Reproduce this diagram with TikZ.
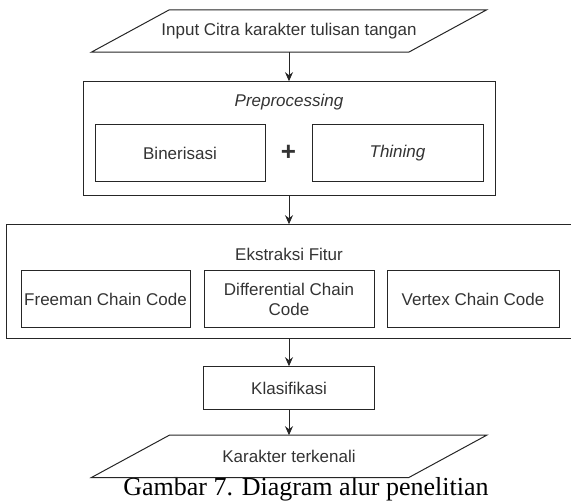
\documentclass[tikz,border=0pt]{standalone}
\usepackage{fontspec}
\setmainfont{Liberation Sans}
\newfontfamily\captionfont{Liberation Serif}
\usetikzlibrary{positioning,arrows.meta,calc}
\tikzset{x=1pt, y=-1pt, node distance=28pt,
	every node/.style={text=black!80, font=\fontsize{17}{20}\selectfont},
	line/.style={draw=black!85, line width=1pt},
	box/.style={line, rectangle, minimum width=170pt, minimum height=57pt, inner sep=0pt},
	group/.style={line, rectangle, inner sep=0pt},
	io/.style={rectangle, minimum width=317pt, minimum height=42pt, inner sep=0pt},
	flow/.style={every edge/.style={line, draw, ->}},
	>={Stealth[length=9pt,width=8pt]}}
\begin{document}
\begin{tikzpicture}
				\useasboundingbox (0,0) rectangle (571,501);
				\node[io] (input) at (289,31) {Input Citra karakter tulisan tangan};

				\node[group, minimum width=412pt, minimum height=114pt] (pre) [below=29pt of input] {};
				\node (pretitle) at ([yshift=-21pt]pre.north) {\itshape Preprocessing};
				\node[box] (bin) [below right=43pt and 12pt of pre.north west] {Binerisasi};
				\node[box, minimum width=171pt] (thin) [right=46pt of bin] {\itshape Thining};
				\node[font=\fontsize{26}{26}\selectfont\bfseries] (plus) at ($(bin.east)!0.5!(thin.west)$) {+};

				\node[group, minimum width=566pt, minimum height=114pt] (ext) [below=28pt of pre] {};
				\node (exttitle) at ([yshift=-30pt]ext.north) {Ekstraksi Fitur};
				\node[box, minimum width=169pt] (fcc) [below right=46pt and 15pt of ext.north west] {Freeman Chain Code};
				\node[box, align=center] (dcc) [right=13pt of fcc] {Differential Chain\\Code};
				\node[box, minimum width=172pt] (vcc) [right=12pt of dcc] {Vertex Chain Code};

				\node[box, minimum width=171pt, minimum height=43pt] (kls) [below=27pt of ext] {Klasifikasi};
				\node[io] (output) [below=25pt of kls] {Karakter terkenali};

				\node[font=\captionfont\fontsize{26}{28}\selectfont, text=black, anchor=base] (caption) at (306,495) {Gambar 7. Diagram alur penelitian};

				% parallelogram outlines of the input/output nodes
				\foreach \n in {input,output}
				\draw[line] ([xshift=-39pt]\n.south west) -- ([xshift=-39pt]\n.south east)
				-- ([xshift=39pt]\n.north east) -- ([xshift=39pt]\n.north west) -- cycle;

				\path[flow]
				(input) edge (pre)
				(pre) edge (ext)
				(ext) edge (kls)
				(kls) edge (output)
				;
			\end{tikzpicture}
\end{document}
